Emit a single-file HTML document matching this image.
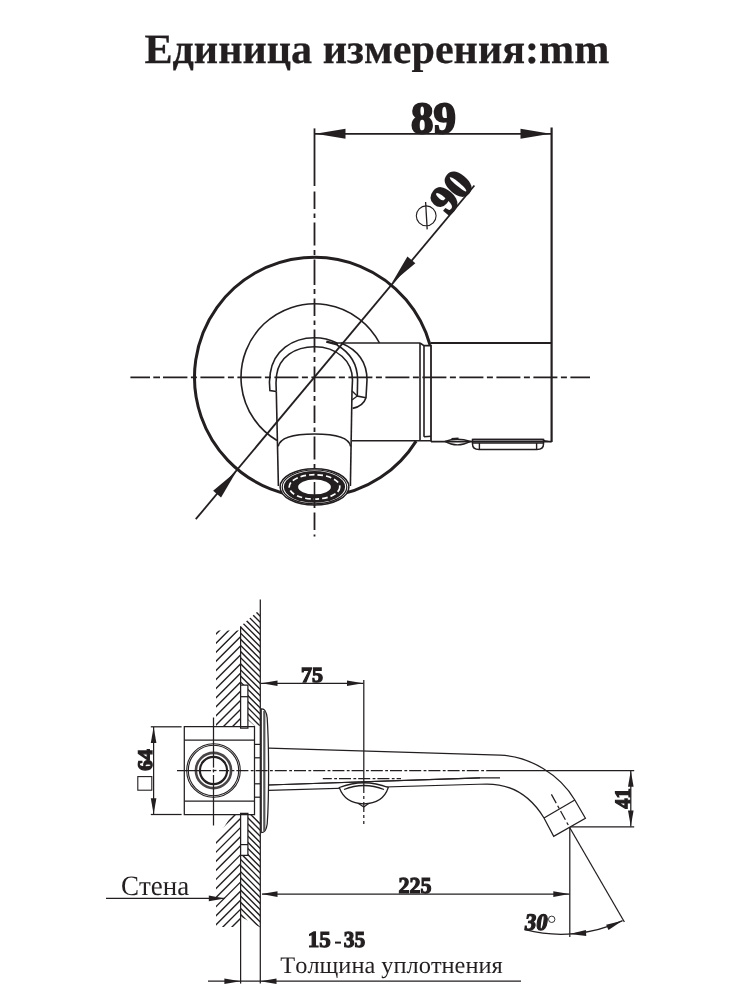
<!DOCTYPE html>
<html><head><meta charset="utf-8"><style>
html,body{margin:0;padding:0;background:#fff;width:750px;height:1000px;overflow:hidden}
svg{display:block;will-change:transform}
text{font-kerning:none;font-feature-settings:"kern" 0;text-rendering:geometricPrecision}
</style></head><body>
<svg width="750" height="1000" viewBox="0 0 750 1000">
<rect width="750" height="1000" fill="#fff"/>
<g stroke="#231f20" stroke-linecap="butt" fill="none">
<line x1="314.5" y1="133.8" x2="551.8" y2="133.8" stroke-width="1.8" />
<polygon points="315.50,133.80 345.50,138.80 345.50,128.80" fill="#231f20" stroke="none"/>
<polygon points="550.50,133.80 520.50,128.80 520.50,138.80" fill="#231f20" stroke="none"/>
<line x1="551.6" y1="127.5" x2="551.6" y2="442" stroke-width="2.2" />
<line x1="314.5" y1="128.4" x2="314.5" y2="186" stroke-width="1.8" />
<line x1="314.5" y1="191.5" x2="314.5" y2="536.5" stroke-width="1.8" stroke-dasharray="17.5 4.5 4.5 4.5 23 4.5 5 4.5 25.5 4 5 4.5"/>
<line x1="130.4" y1="377.3" x2="591.2" y2="377.3" stroke-width="1.8" stroke-dasharray="19.6 3.3 6.7 3 24.4 3.5 6 3.5 24 3.5 6 3.5 24 3.5 6 3.5 24 3.5 6 3.5 24 3.5 6 3.5 24 3.5 6 3.5 24 3.5 6 3.5 24 3.5 6 3.5 24 3.5 6 3.5 24 3.5 6 3.5 24 3.5 6 3.5"/>
<path d="M430.07,344.98 A120,120 0 1 0 416.14,441.09" stroke-width="3" fill="none" />
<path d="M379.51,343 A73.5,73.5 0 1 0 277.00,440.51" stroke-width="1.6" fill="none" />
<path d="M335,343 L420,343" stroke-width="1.7" fill="none" />
<path d="M420,343 L424,345.6 L431,345.6" stroke-width="1.6" fill="none" />
<line x1="431" y1="343" x2="551.6" y2="343" stroke-width="1.8" />
<line x1="420" y1="343" x2="420" y2="440.8" stroke-width="1.6" />
<line x1="424" y1="345.6" x2="424" y2="436.8" stroke-width="1.6" />
<path d="M424,436.8 L431,436.2" stroke-width="1.6" fill="none" />
<path d="M352,440.8 L420,440.8 L431,440.8" stroke-width="1.6" fill="none" />
<line x1="431" y1="345" x2="431" y2="441.6" stroke-width="1.8" />
<line x1="431" y1="441.6" x2="551.6" y2="441.6" stroke-width="1.8" />
<path d="M276.3,391.5 L269.9,390.5 C269.2,385 269.3,379 270.3,373 C273.5,351 292,337.7 314.5,337.7 C325,337.7 330,339.5 337,343" stroke-width="1.6" fill="none" />
<path d="M341,343 C358,350 367,362 367,380 L366,397.7 C364,404 359,407 352.6,408.4" stroke-width="1.6" fill="none" />
<path d="M337,345 C349,352 357.6,362 357.6,380 L357.3,396 L366,397.7" stroke-width="1.6" fill="none" />
<path d="M326.3,341.7 L338,344.5" stroke-width="2.4" fill="none" />
<path d="M276.3,391.5 C275.8,386 275.8,381 276.6,375 C279,357 295,346.7 314.5,346.7 C337,346.7 352.5,361 352.5,380 L352,391" stroke-width="1.6" fill="none" />
<path d="M352,391 L357.3,396" stroke-width="1.3" fill="none" />
<path d="M352,400 L357.3,396" stroke-width="1.3" fill="none" />
<path d="M276.3,391.5 L278.4,486" stroke-width="1.6" fill="none" />
<path d="M352,391 L350.4,486" stroke-width="1.6" fill="none" />
<path d="M278.2,446.4 C280,437 297,434 314.5,434 C332,434 349,437 350.6,446.4" stroke-width="1.6" fill="none" />
<ellipse cx="314.5" cy="486.9" rx="34.4" ry="18.2" fill="#fff" stroke-width="1.5"/>
<ellipse cx="314.5" cy="486.9" rx="32.3" ry="16.9" fill="none" stroke-width="1.2"/>
<ellipse cx="314.5" cy="486.9" rx="30.6" ry="15.9" fill="#231f20" stroke="none"/>
<ellipse cx="314.5" cy="486.9" rx="16.4" ry="7.4" fill="#fff" stroke="none"/>
<ellipse cx="314.5" cy="486.9" rx="25.3" ry="12.2" fill="none" stroke="#fff" stroke-width="1.7" stroke-dasharray="5.5 3"/>
<line x1="314.5" y1="482" x2="314.5" y2="505.5" stroke-width="1.6" />
<path d="M445,441.3 Q457,437.2 470.5,441.3 Q457,448.5 445,441.3" stroke-width="1.4" fill="none" />
<path d="M451.5,438.9 L458.5,438.6" stroke-width="2.0" fill="none" />
<path d="M472.5,439.5 L543.5,439.5 L543.5,444 Q543.5,449.5 537,449.5 L479,449.5 Q472.5,449.5 472.5,444 Z" stroke-width="1.5" fill="none" />
<line x1="472.5" y1="439.5" x2="543.5" y2="439.5" stroke-width="1.7" />
<line x1="472.5" y1="443.0" x2="543.5" y2="443.0" stroke-width="1.4" />
<line x1="479.4" y1="443" x2="479.4" y2="449.5" stroke-width="1.4" />
<line x1="536.6" y1="443" x2="536.6" y2="449.5" stroke-width="1.4" />
<path d="M543.5,440 Q546,441.6 551.6,441.6" stroke-width="1.4" fill="none" />
<line x1="195.8" y1="519.2" x2="474.4" y2="185.5" stroke-width="1.8" />
<polygon points="236.50,471.20 213.13,490.72 221.06,497.44" fill="#231f20" stroke="none"/>
<polygon points="392.00,282.80 415.36,263.27 407.42,256.55" fill="#231f20" stroke="none"/>
<clipPath id="h1"><polygon points="240.6,626.3 257,612 260.3,612 260.3,725.7 254.5,725.7 247.9,720 247.9,685 240.6,685"/></clipPath><g clip-path="url(#h1)"><path d="M239.6,558.8 L261.3,580.5 M239.6,564.9159999999999 L261.3,586.616 M239.6,571.0319999999999 L261.3,592.732 M239.6,577.1479999999999 L261.3,598.848 M239.6,583.2639999999999 L261.3,604.9639999999999 M239.6,589.3799999999999 L261.3,611.0799999999999 M239.6,595.4959999999999 L261.3,617.1959999999999 M239.6,601.6119999999999 L261.3,623.3119999999999 M239.6,607.7279999999998 L261.3,629.4279999999999 M239.6,613.8439999999998 L261.3,635.5439999999999 M239.6,619.9599999999998 L261.3,641.6599999999999 M239.6,626.0759999999998 L261.3,647.7759999999998 M239.6,632.1919999999998 L261.3,653.8919999999998 M239.6,638.3079999999998 L261.3,660.0079999999998 M239.6,644.4239999999998 L261.3,666.1239999999998 M239.6,650.5399999999997 L261.3,672.2399999999998 M239.6,656.6559999999997 L261.3,678.3559999999998 M239.6,662.7719999999997 L261.3,684.4719999999998 M239.6,668.8879999999997 L261.3,690.5879999999997 M239.6,675.0039999999997 L261.3,696.7039999999997 M239.6,681.1199999999997 L261.3,702.8199999999997 M239.6,687.2359999999996 L261.3,708.9359999999997 M239.6,693.3519999999996 L261.3,715.0519999999997 M239.6,699.4679999999996 L261.3,721.1679999999997 M239.6,705.5839999999996 L261.3,727.2839999999997 M239.6,711.6999999999996 L261.3,733.3999999999996 M239.6,717.8159999999996 L261.3,739.5159999999996 M239.6,723.9319999999996 L261.3,745.6319999999996 M239.6,730.0479999999995 L261.3,751.7479999999996 M239.6,736.1639999999995 L261.3,757.8639999999996 M239.6,742.2799999999995 L261.3,763.9799999999996 M239.6,748.3959999999995 L261.3,770.0959999999995 M239.6,754.5119999999995 L261.3,776.2119999999995 M239.6,760.6279999999995 L261.3,782.3279999999995 M239.6,766.7439999999995 L261.3,788.4439999999995 M239.6,772.8599999999994 L261.3,794.5599999999995 M239.6,778.9759999999994 L261.3,800.6759999999995 M239.6,785.0919999999994 L261.3,806.7919999999995 M239.6,791.2079999999994 L261.3,812.9079999999994 M239.6,797.3239999999994 L261.3,819.0239999999994 M239.6,803.4399999999994 L261.3,825.1399999999994 M239.6,809.5559999999994 L261.3,831.2559999999994 M239.6,815.6719999999993 L261.3,837.3719999999994 M239.6,821.7879999999993 L261.3,843.4879999999994 M239.6,827.9039999999993 L261.3,849.6039999999994 M239.6,834.0199999999993 L261.3,855.7199999999993 M239.6,840.1359999999993 L261.3,861.8359999999993 M239.6,846.2519999999993 L261.3,867.9519999999993 M239.6,852.3679999999993 L261.3,874.0679999999993 M239.6,858.4839999999992 L261.3,880.1839999999993 M239.6,864.5999999999992 L261.3,886.2999999999993 M239.6,870.7159999999992 L261.3,892.4159999999993 M239.6,876.8319999999992 L261.3,898.5319999999992 M239.6,882.9479999999992 L261.3,904.6479999999992 M239.6,889.0639999999992 L261.3,910.7639999999992 M239.6,895.1799999999992 L261.3,916.8799999999992 M239.6,901.2959999999991 L261.3,922.9959999999992 M239.6,907.4119999999991 L261.3,929.1119999999992 M239.6,913.5279999999991 L261.3,935.2279999999992 M239.6,919.6439999999991 L261.3,941.3439999999991 M239.6,925.7599999999991 L261.3,947.4599999999991 M239.6,931.8759999999991 L261.3,953.5759999999991 M239.6,937.991999999999 L261.3,959.6919999999991 M239.6,944.107999999999 L261.3,965.8079999999991 M239.6,950.223999999999 L261.3,971.9239999999991 M239.6,956.339999999999 L261.3,978.039999999999 M239.6,962.455999999999 L261.3,984.155999999999 M239.6,968.571999999999 L261.3,990.271999999999 M239.6,974.687999999999 L261.3,996.387999999999 M239.6,980.803999999999 L261.3,1002.503999999999 M239.6,986.9199999999989 L261.3,1008.619999999999 M239.6,993.0359999999989 L261.3,1014.735999999999" stroke-width="1.4" fill="none"/></g>
<clipPath id="h2"><polygon points="247.9,814.5 254.5,814.5 260.3,820 260.3,927.5 246.6,919.8 240.6,917 240.6,855.4 247.9,855.4"/></clipPath><g clip-path="url(#h2)"><path d="M239.6,558.8 L261.3,580.5 M239.6,564.9159999999999 L261.3,586.616 M239.6,571.0319999999999 L261.3,592.732 M239.6,577.1479999999999 L261.3,598.848 M239.6,583.2639999999999 L261.3,604.9639999999999 M239.6,589.3799999999999 L261.3,611.0799999999999 M239.6,595.4959999999999 L261.3,617.1959999999999 M239.6,601.6119999999999 L261.3,623.3119999999999 M239.6,607.7279999999998 L261.3,629.4279999999999 M239.6,613.8439999999998 L261.3,635.5439999999999 M239.6,619.9599999999998 L261.3,641.6599999999999 M239.6,626.0759999999998 L261.3,647.7759999999998 M239.6,632.1919999999998 L261.3,653.8919999999998 M239.6,638.3079999999998 L261.3,660.0079999999998 M239.6,644.4239999999998 L261.3,666.1239999999998 M239.6,650.5399999999997 L261.3,672.2399999999998 M239.6,656.6559999999997 L261.3,678.3559999999998 M239.6,662.7719999999997 L261.3,684.4719999999998 M239.6,668.8879999999997 L261.3,690.5879999999997 M239.6,675.0039999999997 L261.3,696.7039999999997 M239.6,681.1199999999997 L261.3,702.8199999999997 M239.6,687.2359999999996 L261.3,708.9359999999997 M239.6,693.3519999999996 L261.3,715.0519999999997 M239.6,699.4679999999996 L261.3,721.1679999999997 M239.6,705.5839999999996 L261.3,727.2839999999997 M239.6,711.6999999999996 L261.3,733.3999999999996 M239.6,717.8159999999996 L261.3,739.5159999999996 M239.6,723.9319999999996 L261.3,745.6319999999996 M239.6,730.0479999999995 L261.3,751.7479999999996 M239.6,736.1639999999995 L261.3,757.8639999999996 M239.6,742.2799999999995 L261.3,763.9799999999996 M239.6,748.3959999999995 L261.3,770.0959999999995 M239.6,754.5119999999995 L261.3,776.2119999999995 M239.6,760.6279999999995 L261.3,782.3279999999995 M239.6,766.7439999999995 L261.3,788.4439999999995 M239.6,772.8599999999994 L261.3,794.5599999999995 M239.6,778.9759999999994 L261.3,800.6759999999995 M239.6,785.0919999999994 L261.3,806.7919999999995 M239.6,791.2079999999994 L261.3,812.9079999999994 M239.6,797.3239999999994 L261.3,819.0239999999994 M239.6,803.4399999999994 L261.3,825.1399999999994 M239.6,809.5559999999994 L261.3,831.2559999999994 M239.6,815.6719999999993 L261.3,837.3719999999994 M239.6,821.7879999999993 L261.3,843.4879999999994 M239.6,827.9039999999993 L261.3,849.6039999999994 M239.6,834.0199999999993 L261.3,855.7199999999993 M239.6,840.1359999999993 L261.3,861.8359999999993 M239.6,846.2519999999993 L261.3,867.9519999999993 M239.6,852.3679999999993 L261.3,874.0679999999993 M239.6,858.4839999999992 L261.3,880.1839999999993 M239.6,864.5999999999992 L261.3,886.2999999999993 M239.6,870.7159999999992 L261.3,892.4159999999993 M239.6,876.8319999999992 L261.3,898.5319999999992 M239.6,882.9479999999992 L261.3,904.6479999999992 M239.6,889.0639999999992 L261.3,910.7639999999992 M239.6,895.1799999999992 L261.3,916.8799999999992 M239.6,901.2959999999991 L261.3,922.9959999999992 M239.6,907.4119999999991 L261.3,929.1119999999992 M239.6,913.5279999999991 L261.3,935.2279999999992 M239.6,919.6439999999991 L261.3,941.3439999999991 M239.6,925.7599999999991 L261.3,947.4599999999991 M239.6,931.8759999999991 L261.3,953.5759999999991 M239.6,937.991999999999 L261.3,959.6919999999991 M239.6,944.107999999999 L261.3,965.8079999999991 M239.6,950.223999999999 L261.3,971.9239999999991 M239.6,956.339999999999 L261.3,978.039999999999 M239.6,962.455999999999 L261.3,984.155999999999 M239.6,968.571999999999 L261.3,990.271999999999 M239.6,974.687999999999 L261.3,996.387999999999 M239.6,980.803999999999 L261.3,1002.503999999999 M239.6,986.9199999999989 L261.3,1008.619999999999 M239.6,993.0359999999989 L261.3,1014.735999999999" stroke-width="1.4" fill="none"/></g>
<clipPath id="h3"><polygon points="216,630.6 240.6,630.6 240.6,726.4 216,726.4"/></clipPath><g clip-path="url(#h3)"><path d="M215,589.65 L241.6,563.05 M215,598.735 L241.6,572.135 M215,607.82 L241.6,581.22 M215,616.9050000000001 L241.6,590.3050000000001 M215,625.9900000000001 L241.6,599.3900000000001 M215,635.0750000000002 L241.6,608.4750000000001 M215,644.1600000000002 L241.6,617.5600000000002 M215,653.2450000000002 L241.6,626.6450000000002 M215,662.3300000000003 L241.6,635.7300000000002 M215,671.4150000000003 L241.6,644.8150000000003 M215,680.5000000000003 L241.6,653.9000000000003 M215,689.5850000000004 L241.6,662.9850000000004 M215,698.6700000000004 L241.6,672.0700000000004 M215,707.7550000000005 L241.6,681.1550000000004 M215,716.8400000000005 L241.6,690.2400000000005 M215,725.9250000000005 L241.6,699.3250000000005 M215,735.0100000000006 L241.6,708.4100000000005 M215,744.0950000000006 L241.6,717.4950000000006 M215,753.1800000000006 L241.6,726.5800000000006 M215,762.2650000000007 L241.6,735.6650000000006 M215,771.3500000000007 L241.6,744.7500000000007 M215,780.4350000000007 L241.6,753.8350000000007 M215,789.5200000000008 L241.6,762.9200000000008 M215,798.6050000000008 L241.6,772.0050000000008 M215,807.6900000000009 L241.6,781.0900000000008 M215,816.7750000000009 L241.6,790.1750000000009 M215,825.8600000000009 L241.6,799.2600000000009 M215,834.945000000001 L241.6,808.3450000000009 M215,844.030000000001 L241.6,817.430000000001 M215,853.115000000001 L241.6,826.515000000001 M215,862.2000000000011 L241.6,835.600000000001 M215,871.2850000000011 L241.6,844.6850000000011 M215,880.3700000000011 L241.6,853.7700000000011 M215,889.4550000000012 L241.6,862.8550000000012 M215,898.5400000000012 L241.6,871.9400000000012 M215,907.6250000000013 L241.6,881.0250000000012 M215,916.7100000000013 L241.6,890.1100000000013 M215,925.7950000000013 L241.6,899.1950000000013 M215,934.8800000000014 L241.6,908.2800000000013 M215,943.9650000000014 L241.6,917.3650000000014 M215,953.0500000000014 L241.6,926.4500000000014 M215,962.1350000000015 L241.6,935.5350000000014 M215,971.2200000000015 L241.6,944.6200000000015 M215,980.3050000000015 L241.6,953.7050000000015 M215,989.3900000000016 L241.6,962.7900000000016 M215,998.4750000000016 L241.6,971.8750000000016 M215,1007.5600000000017 L241.6,980.9600000000016 M215,1016.6450000000017 L241.6,990.0450000000017" stroke-width="1.4" fill="none"/></g>
<clipPath id="h4"><polygon points="232,814.5 240.6,814.5 240.6,927 216,927 216,840"/></clipPath><g clip-path="url(#h4)"><path d="M215,589.65 L241.6,563.05 M215,598.735 L241.6,572.135 M215,607.82 L241.6,581.22 M215,616.9050000000001 L241.6,590.3050000000001 M215,625.9900000000001 L241.6,599.3900000000001 M215,635.0750000000002 L241.6,608.4750000000001 M215,644.1600000000002 L241.6,617.5600000000002 M215,653.2450000000002 L241.6,626.6450000000002 M215,662.3300000000003 L241.6,635.7300000000002 M215,671.4150000000003 L241.6,644.8150000000003 M215,680.5000000000003 L241.6,653.9000000000003 M215,689.5850000000004 L241.6,662.9850000000004 M215,698.6700000000004 L241.6,672.0700000000004 M215,707.7550000000005 L241.6,681.1550000000004 M215,716.8400000000005 L241.6,690.2400000000005 M215,725.9250000000005 L241.6,699.3250000000005 M215,735.0100000000006 L241.6,708.4100000000005 M215,744.0950000000006 L241.6,717.4950000000006 M215,753.1800000000006 L241.6,726.5800000000006 M215,762.2650000000007 L241.6,735.6650000000006 M215,771.3500000000007 L241.6,744.7500000000007 M215,780.4350000000007 L241.6,753.8350000000007 M215,789.5200000000008 L241.6,762.9200000000008 M215,798.6050000000008 L241.6,772.0050000000008 M215,807.6900000000009 L241.6,781.0900000000008 M215,816.7750000000009 L241.6,790.1750000000009 M215,825.8600000000009 L241.6,799.2600000000009 M215,834.945000000001 L241.6,808.3450000000009 M215,844.030000000001 L241.6,817.430000000001 M215,853.115000000001 L241.6,826.515000000001 M215,862.2000000000011 L241.6,835.600000000001 M215,871.2850000000011 L241.6,844.6850000000011 M215,880.3700000000011 L241.6,853.7700000000011 M215,889.4550000000012 L241.6,862.8550000000012 M215,898.5400000000012 L241.6,871.9400000000012 M215,907.6250000000013 L241.6,881.0250000000012 M215,916.7100000000013 L241.6,890.1100000000013 M215,925.7950000000013 L241.6,899.1950000000013 M215,934.8800000000014 L241.6,908.2800000000013 M215,943.9650000000014 L241.6,917.3650000000014 M215,953.0500000000014 L241.6,926.4500000000014 M215,962.1350000000015 L241.6,935.5350000000014 M215,971.2200000000015 L241.6,944.6200000000015 M215,980.3050000000015 L241.6,953.7050000000015 M215,989.3900000000016 L241.6,962.7900000000016 M215,998.4750000000016 L241.6,971.8750000000016 M215,1007.5600000000017 L241.6,980.9600000000016 M215,1016.6450000000017 L241.6,990.0450000000017" stroke-width="1.4" fill="none"/></g>
<line x1="260.3" y1="599.4" x2="260.3" y2="983.6" stroke-width="1.25" />
<line x1="240.6" y1="626.3" x2="240.6" y2="685" stroke-width="1.25" />
<line x1="240.6" y1="855.4" x2="240.6" y2="983.6" stroke-width="1.25" />
<path d="M240.6,685 L247.9,685 L247.9,728.2 L240.6,728.2 Z" stroke-width="1.25" fill="none" />
<line x1="240.6" y1="696.7" x2="247.9" y2="696.7" stroke-width="1.25" />
<path d="M240.6,813.3 L247.9,813.3 L247.9,855.4 L240.6,855.4 Z" stroke-width="1.25" fill="none" />
<line x1="240.6" y1="844.6" x2="247.9" y2="844.6" stroke-width="1.25" />
<path d="M184.3,726.6 L254.5,726.6 L254.5,814.5 L184.3,814.5 Z" stroke-width="1.25" fill="none" />
<line x1="184.3" y1="740.2" x2="254.5" y2="740.2" stroke-width="1.25" />
<line x1="184.3" y1="801.2" x2="254.5" y2="801.2" stroke-width="1.25" />
<line x1="254.5" y1="744.4" x2="260.3" y2="744.4" stroke-width="1.25" />
<line x1="254.5" y1="757.8" x2="260.3" y2="757.8" stroke-width="1.25" />
<line x1="254.5" y1="783.8" x2="260.3" y2="783.8" stroke-width="1.25" />
<line x1="254.5" y1="797.2" x2="260.3" y2="797.2" stroke-width="1.25" />
<circle cx="213.5" cy="770.5" r="26.8" fill="none" stroke-width="1.1"/>
<circle cx="213.5" cy="770.5" r="25.2" fill="none" stroke-width="1.1"/>
<circle cx="213.5" cy="770.5" r="17.6" fill="none" stroke="#4a4647" stroke-width="2.6"/>
<circle cx="213.5" cy="770.5" r="13.6" fill="none" stroke-width="2.2"/>
<line x1="213.5" y1="717.5" x2="213.5" y2="767.6" stroke-width="1.25" />
<line x1="213.5" y1="769.5" x2="213.5" y2="772.4" stroke-width="1.25" />
<line x1="213.5" y1="775" x2="213.5" y2="825.5" stroke-width="1.25" />
<path d="M261.2,832.5 L261.2,708.9 Q266,708 267.2,718 Q268.6,740 268.6,771 Q268.6,805 267.2,824 Q266,833 261.2,832.5" stroke-width="1.25" fill="none" />
<line x1="264.3" y1="711" x2="264.3" y2="831" stroke-width="2.2" stroke="#555"/>
<path d="M268.6,748.1 L500,755.2 C530,756 560,775 574.8,800 L585.4,818.2 L553.7,836.4 L544,818 C530,795 510,784 487,784 L268.6,790.4" stroke-width="1.25" fill="none" />
<path d="M268.6,785 L480,777.9 L500,777.9" stroke-width="1.25" fill="none" />
<line x1="544" y1="818" x2="574.8" y2="800" stroke-width="1.25" />
<line x1="322.8" y1="778.6" x2="401" y2="778.6" stroke-width="1.25" stroke-dasharray="12 2.4 2.8 2" stroke-dashoffset="3"/>
<line x1="177" y1="770.5" x2="211.1" y2="770.5" stroke-width="1.25" />
<line x1="212.7" y1="770.5" x2="216.5" y2="770.5" stroke-width="1.25" />
<line x1="219.1" y1="770.5" x2="486.6" y2="770.5" stroke-width="1.25" stroke-dasharray="12 2.4 2.8 2" stroke-dashoffset="1.9"/>
<line x1="486.6" y1="770.5" x2="634.2" y2="770.5" stroke-width="1.25" />
<path d="M339.3,787.5 Q363.8,778 388.3,787.5 Q383,803.6 363.8,803.8 Q345,803.6 339.3,787.5 Z" stroke-width="1.25" fill="#fff" />
<path d="M344,789.5 Q363.8,781.5 384,789.5" stroke-width="1.25" fill="none" />
<path d="M358.5,803.5 L363.8,807 L368.5,803.5" stroke-width="1.25" fill="none" />
<line x1="268.6" y1="785" x2="480" y2="777.9" stroke-width="1.25" />
<line x1="363.8" y1="680" x2="363.8" y2="783" stroke-width="1.25" />
<line x1="363.8" y1="783" x2="363.8" y2="824" stroke-width="1.25" stroke-dasharray="10 3 3 3"/>
<line x1="261" y1="683.3" x2="363.5" y2="683.3" stroke-width="1.25" />
<polygon points="261.50,683.30 277.50,686.10 277.50,680.50" fill="#231f20" stroke="none"/>
<polygon points="363.00,683.30 347.00,680.50 347.00,686.10" fill="#231f20" stroke="none"/>
<line x1="150.8" y1="726.8" x2="181.6" y2="726.8" stroke-width="1.25" />
<line x1="150.8" y1="814.5" x2="181.6" y2="814.5" stroke-width="1.25" />
<line x1="153.6" y1="727" x2="153.6" y2="814" stroke-width="1.25" />
<polygon points="153.60,727.00 150.80,743.00 156.40,743.00" fill="#231f20" stroke="none"/>
<polygon points="153.60,814.30 156.40,798.30 150.80,798.30" fill="#231f20" stroke="none"/>
<rect x="137.8" y="776.6" width="14" height="13.6" fill="none" stroke-width="1.1"/>
<line x1="570.7" y1="826.8" x2="634.2" y2="826.8" stroke-width="1.25" />
<line x1="630.8" y1="771" x2="630.8" y2="826.5" stroke-width="1.25" />
<polygon points="630.80,770.80 628.00,786.80 633.60,786.80" fill="#231f20" stroke="none"/>
<polygon points="630.80,826.60 633.60,810.60 628.00,810.60" fill="#231f20" stroke="none"/>
<line x1="551.4" y1="794.4" x2="569.5" y2="827.3" stroke-width="1.25" stroke-dasharray="10 3 3 3"/>
<line x1="569.5" y1="827.3" x2="624.4" y2="922" stroke-width="1.25" />
<line x1="569.8" y1="827" x2="569.8" y2="937" stroke-width="1.25" />
<line x1="262" y1="894.1" x2="569.5" y2="894.1" stroke-width="1.25" />
<polygon points="261.50,894.10 277.50,896.90 277.50,891.30" fill="#231f20" stroke="none"/>
<polygon points="569.30,894.10 553.30,891.30 553.30,896.90" fill="#231f20" stroke="none"/>
<line x1="106" y1="898.4" x2="224.8" y2="898.4" stroke-width="1.25" />
<polygon points="224.80,898.40 208.80,895.60 208.80,901.20" fill="#231f20" stroke="none"/>
<line x1="208" y1="981.2" x2="260.3" y2="981.2" stroke-width="1.25" />
<polygon points="240.40,981.20 224.40,978.40 224.40,984.00" fill="#231f20" stroke="none"/>
<line x1="260.3" y1="981.2" x2="521" y2="981.2" stroke-width="1.25" />
<polygon points="260.50,981.20 276.50,984.00 276.50,978.40" fill="#231f20" stroke="none"/>
<path d="M525.00,929.73 A145.95,145.95 0 0 0 622.60,920.64" stroke-width="1.25" fill="none" />
<polygon points="569.60,934.00 586.24,935.90 585.90,930.12" fill="#231f20" stroke="none"/>
<polygon points="622.40,920.80 606.13,924.79 608.47,930.10" fill="#231f20" stroke="none"/>
<rect x="335" y="941.6" width="6" height="2" fill="#231f20" stroke="none"/>
<circle cx="551.7" cy="919.3" r="3.2" fill="none" stroke-width="0.9"/>
<circle cx="426.2" cy="215.8" r="9.9" fill="none" stroke-width="1.1"/>
<line x1="425.6" y1="202" x2="427.2" y2="229.4" stroke-width="1.3" />
<text transform="translate(145.12,63.48) translate(-0.72,0) scale(1.0099,1)" font-family="Liberation Serif" font-weight="bold" font-style="normal" font-size="41.77" fill="#231f20" stroke="#231f20" stroke-width="0.25">Единица измерения:mm</text>
<text transform="translate(412.60,132.60) translate(-1.49,0) scale(1.0091,1)" font-family="Liberation Serif" font-weight="bold" font-style="normal" font-size="44.51" fill="#231f20" stroke="#231f20" stroke-width="2.0">89</text>
<text transform="translate(302.35,682.35) translate(-1.26,0) scale(1.0249,1)" font-family="Liberation Serif" font-weight="bold" font-style="normal" font-size="21.53" fill="#231f20" stroke="#231f20" stroke-width="1.3">75</text>
<text transform="translate(399.40,892.90) translate(-0.92,0) scale(0.9656,1)" font-family="Liberation Serif" font-weight="bold" font-style="normal" font-size="22.81" fill="#231f20" stroke="#231f20" stroke-width="1.2">225</text>
<text transform="translate(309.60,947.20) translate(-1.84,0) scale(1.0047,1)" font-family="Liberation Serif" font-weight="bold" font-style="normal" font-size="22.87" fill="#231f20" stroke="#231f20" stroke-width="1.2">15</text>
<text transform="translate(344.60,947.20) translate(-0.80,0) scale(0.9378,1)" font-family="Liberation Serif" font-weight="bold" font-style="normal" font-size="22.81" fill="#231f20" stroke="#231f20" stroke-width="1.2">35</text>
<text transform="translate(524.60,929.80) skewX(-9) translate(-0.86,0) scale(0.9670,1)" font-family="Liberation Serif" font-weight="bold" font-style="normal" font-size="23.61" fill="#231f20" stroke="#231f20" stroke-width="1.2">30</text>
<text transform="translate(122.00,894.80) translate(-1.11,0) scale(0.9671,1)" font-family="Liberation Serif" font-weight="normal" font-style="normal" font-size="27.94" fill="#231f20" stroke="none">Стена</text>
<text transform="translate(280.80,972.90) translate(-0.44,0) scale(1.0234,1)" font-family="Liberation Serif" font-weight="normal" font-style="normal" font-size="23.82" fill="#231f20" stroke="none">Толщина уплотнения</text>
<g transform="translate(152.7,770.7) rotate(-90)"><text transform="translate(0.65,-0.65) translate(-0.74,0) scale(1.0408,1)" font-family="Liberation Serif" font-weight="bold" font-style="normal" font-size="20.69" fill="#231f20" stroke="#231f20" stroke-width="1.3">64</text></g>
<g transform="translate(630.8,809.2) rotate(-90)"><text transform="translate(0.65,-0.65) translate(-0.28,0) scale(0.9305,1)" font-family="Liberation Serif" font-weight="bold" font-style="normal" font-size="21.96" fill="#231f20" stroke="#231f20" stroke-width="1.3">41</text></g>
<g transform="translate(448.9,217.1) rotate(-49.74)"><text transform="translate(1.00,-1.00) translate(-1.14,0) scale(1.0279,1)" font-family="Liberation Serif" font-weight="bold" font-style="normal" font-size="40.60" fill="#231f20" stroke="#231f20" stroke-width="2.0">90</text></g>
</g>
</svg>
</body></html>
